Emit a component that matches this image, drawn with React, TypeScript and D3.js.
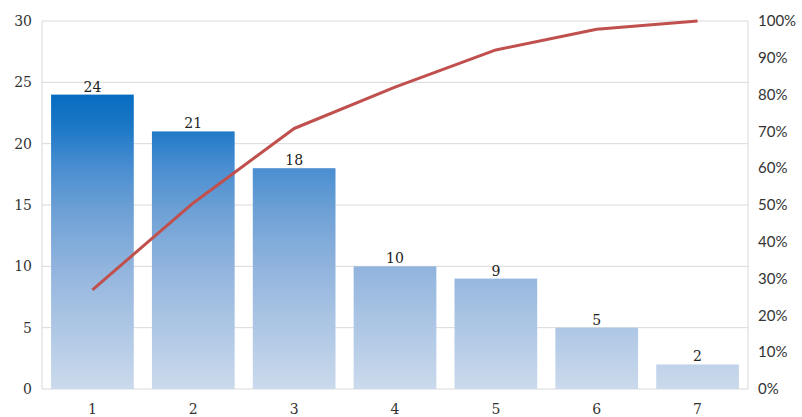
import React from "react";
import * as d3 from "d3";

const categories = ["1", "2", "3", "4", "5", "6", "7"];
const values = [24, 21, 18, 10, 9, 5, 2];
const leftTicks = [0, 5, 10, 15, 20, 25, 30];
const rightTicks = [0, 0.1, 0.2, 0.3, 0.4, 0.5, 0.6, 0.7, 0.8, 0.9, 1];

const W = 802;
const H = 417;
const m = { left: 42, right: 54, top: 21, bottom: 28 };

export default function App() {
  const total = d3.sum(values);
  let acc = 0;
  const cum = values.map((v) => (acc += v) / total);

  const x = d3
    .scaleBand<string>()
    .domain(categories)
    .range([m.left, W - m.right])
    .paddingInner(0.18)
    .paddingOuter(0.09);
  const y = d3.scaleLinear().domain([0, 30]).range([H - m.bottom, m.top]);
  const y2 = d3.scaleLinear().domain([0, 1]).range([H - m.bottom, m.top]);

  const line = d3
    .line<number>()
    .x((_, i) => (x(categories[i]) as number) + x.bandwidth() / 2)
    .y((d) => y2(d));

  const serif = "'DejaVu Serif', 'Liberation Serif', serif";
  const sans = "Lato, 'Open Sans', sans-serif";

  return (
    <svg
      width={W}
      height={H}
      style={{ position: "absolute", left: 0, top: 0, background: "#fff" }}
    >
      <defs>
        <linearGradient
          id="barGrad"
          gradientUnits="userSpaceOnUse"
          x1="0"
          x2="0"
          y1={y(0)}
          y2={y(24)}
        >
          <stop offset="0" stopColor="#cbdaec" />
          <stop offset="0.4" stopColor="#93b5de" />
          <stop offset="0.6" stopColor="#6fa1d5" />
          <stop offset="0.75" stopColor="#4a8ed1" />
          <stop offset="0.88" stopColor="#1f79c7" />
          <stop offset="1" stopColor="#066cc1" />
        </linearGradient>
      </defs>
      {leftTicks.map((t) => (
        <line
          key={t}
          x1={m.left}
          x2={W - m.right}
          y1={y(t)}
          y2={y(t)}
          stroke="#d9d9d9"
          strokeWidth={1}
        />
      ))}
      <line x1={m.left} x2={m.left} y1={y(30)} y2={y(0)} stroke="#d9d9d9" />
      <line
        x1={W - m.right}
        x2={W - m.right}
        y1={y(30)}
        y2={y(0)}
        stroke="#d9d9d9"
      />
      {values.map((v, i) => (
        <rect
          key={i}
          x={x(categories[i])}
          y={y(v)}
          width={x.bandwidth()}
          height={y(0) - y(v)}
          fill="url(#barGrad)"
        />
      ))}
      {values.map((v, i) => (
        <text
          key={"l" + i}
          x={(x(categories[i]) as number) + x.bandwidth() / 2}
          y={y(v) - 3}
          textAnchor="middle"
          fontFamily={serif}
          fontSize={14}
          fill="#222"
        >
          {v}
        </text>
      ))}
      <path
        d={line(cum) || ""}
        fill="none"
        stroke="#c0504d"
        strokeWidth={3}
        strokeLinejoin="round"
      />
      {leftTicks.map((t) => (
        <text
          key={"y" + t}
          x={32}
          y={y(t)}
          dy="0.35em"
          textAnchor="end"
          fontFamily={serif}
          fontSize={14}
          fill="#333"
        >
          {t}
        </text>
      ))}
      {rightTicks.map((t) => (
        <text
          key={"r" + t}
          x={W - m.right + 10}
          y={y2(t)}
          dy="0.35em"
          textAnchor="start"
          fontFamily={sans}
          fontSize={15}
          fill="#333"
        >
          {Math.round(t * 100) + "%"}
        </text>
      ))}
      {categories.map((c) => (
        <text
          key={"x" + c}
          x={(x(c) as number) + x.bandwidth() / 2}
          y={H - m.bottom + 20}
          dy="0.35em"
          textAnchor="middle"
          fontFamily={serif}
          fontSize={14}
          fill="#333"
        >
          {c}
        </text>
      ))}
    </svg>
  );
}
